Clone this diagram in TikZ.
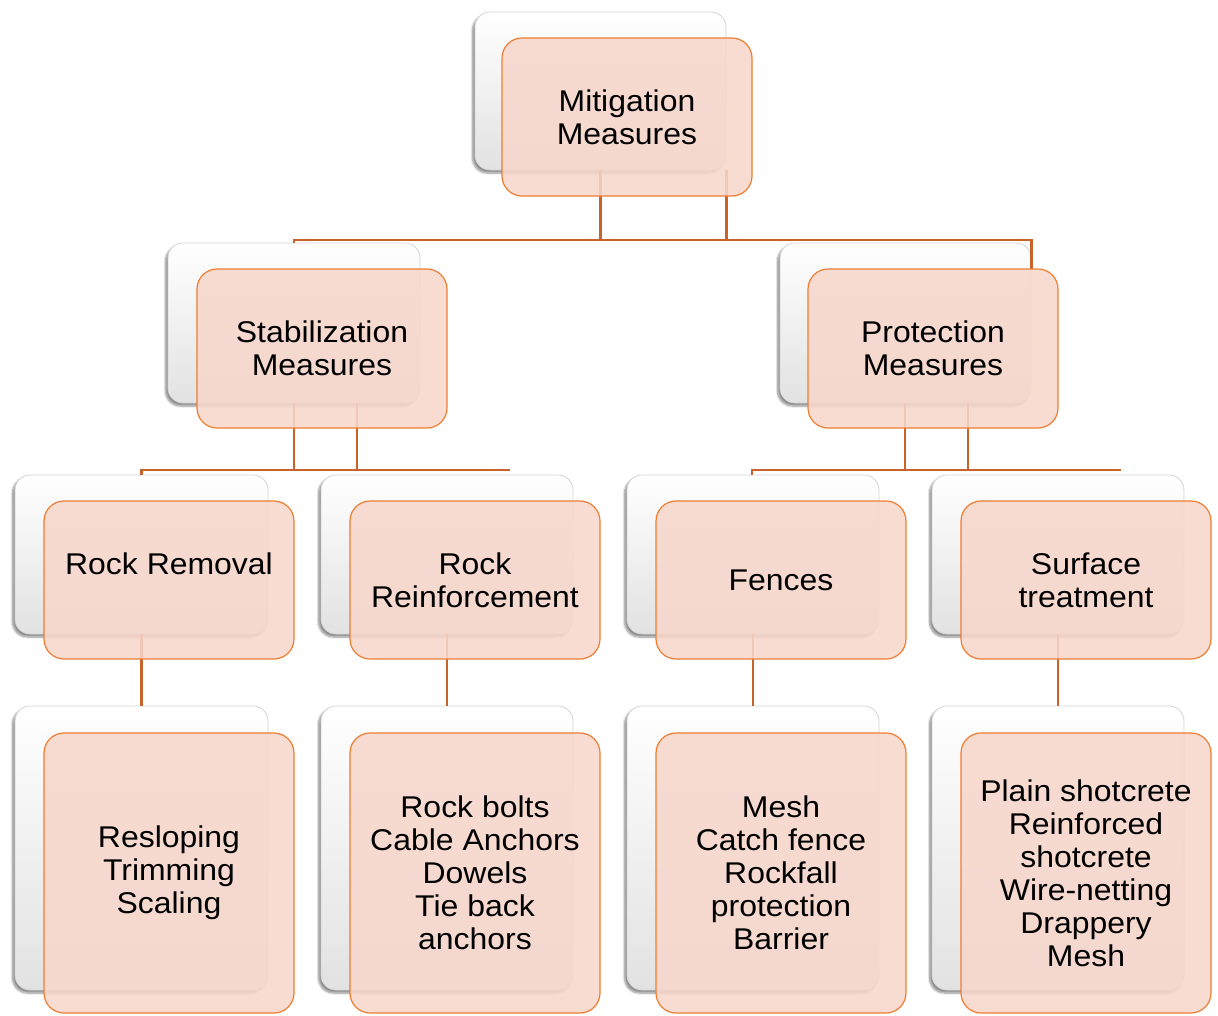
\documentclass[tikz,border=0pt]{standalone}
\usepackage{fontspec}
\setmainfont{Liberation Sans}[FakeStretch=1.065]
\usetikzlibrary{shadows.blur,calc}
\definecolor{frontfill}{HTML}{F7D6CB}
\definecolor{frontline}{HTML}{ED7D31}
\definecolor{conn}{HTML}{C8642A}
\definecolor{backline}{HTML}{D4D4D4}
\definecolor{backlow}{HTML}{E2E2E2}
\tikzset{
  backbox/.style={draw=backline, line width=0.8pt, rounded corners=15pt,
    top color=white, middle color=white, bottom color=backlow,
    blur shadow={shadow xshift=-2.5pt, shadow yshift=-3pt, shadow blur steps=6, shadow opacity=45},
    inner sep=0pt, anchor=center},
  frontbox/.style={draw=frontline, line width=1.2pt, rounded corners=20pt,
    fill=frontfill, fill opacity=0.88, text opacity=1, inner sep=0pt, anchor=center,
    align=center, font=\fontsize{30}{33}\selectfont},
  connline/.style={draw=conn, line width=2.4pt}
}
\begin{document}
\begin{tikzpicture}[x=1pt,y=-1pt]
\useasboundingbox (0,0) rectangle (1218,1015);
% back boxes
\node[backbox, minimum width=251pt, minimum height=158pt] (mb) at (600.5,91) {};
\node[backbox, minimum width=252pt, minimum height=160pt] (sb) at (294,323) {};
\node[backbox, minimum width=251pt, minimum height=160pt] (pb) at (905.5,323) {};
\node[backbox, minimum width=253pt, minimum height=159pt] (rrb) at (141.5,554.5) {};
\node[backbox, minimum width=252pt, minimum height=159pt] (rfb) at (447,554.5) {};
\node[backbox, minimum width=252pt, minimum height=159pt] (feb) at (753,554.5) {};
\node[backbox, minimum width=252pt, minimum height=159pt] (stb) at (1058,554.5) {};
\node[backbox, minimum width=253pt, minimum height=284pt] (rr4b) at (141.5,848) {};
\node[backbox, minimum width=252pt, minimum height=284pt] (rf4b) at (447,848) {};
\node[backbox, minimum width=252pt, minimum height=284pt] (fe4b) at (753,848) {};
\node[backbox, minimum width=252pt, minimum height=284pt] (st4b) at (1058,848) {};
% connectors
\draw[connline] (mb.south) -- (mb.south |- 0,240) -| ($(pb.north east)+(0,27)$);
\draw[connline] (mb.south east) -- (mb.south east |- 0,240) -| (sb.north);
\draw[connline] (294,403) -- (294,470) -- (510,470);
\draw[connline] (357,403) -- (357,470) -| (rrb.north);
\draw[connline] (905,403) -- (905,470) -- (1121,470);
\draw[connline] (968,403) -- (968,470) -| (feb.north -| 752,0);
\draw[connline] (rrb.south) -- (rr4b.north);
\draw[connline] (rfb.south) -- (rf4b.north);
\draw[connline] (feb.south) -- (fe4b.north);
\draw[connline] (stb.south) -- (st4b.north);
% front boxes
\node[frontbox, minimum width=250pt, minimum height=158pt] (mf) at (627,117) {Mitigation\\Measures};
\node[frontbox, minimum width=250pt, minimum height=159pt] (sf) at (322,348.5) {Stabilization\\Measures};
\node[frontbox, minimum width=250pt, minimum height=159pt] (pf) at (933,348.5) {Protection\\Measures};
\node[frontbox, minimum width=250pt, minimum height=158pt] (rrf) at (169,580) {Rock Removal\\\phantom{X}};
\node[frontbox, minimum width=250pt, minimum height=158pt] (rff) at (475,580) {Rock\\Reinforcement};
\node[frontbox, minimum width=250pt, minimum height=158pt] (fef) at (781,580) {Fences};
\node[frontbox, minimum width=250pt, minimum height=158pt] (stf) at (1086,580) {Surface\\treatment};
\node[frontbox, minimum width=250pt, minimum height=280pt] (rr4f) at (169,873) {Resloping\\Trimming\\Scaling};
\node[frontbox, minimum width=250pt, minimum height=280pt] (rf4f) at (475,873) {Rock bolts\\Cable Anchors\\Dowels\\Tie back\\anchors};
\node[frontbox, minimum width=250pt, minimum height=280pt] (fe4f) at (781,873) {Mesh\\Catch fence\\Rockfall\\protection\\Barrier};
\node[frontbox, minimum width=250pt, minimum height=280pt] (st4f) at (1086,873) {Plain shotcrete\\Reinforced\\shotcrete\\Wire-netting\\Drappery\\Mesh};
\end{tikzpicture}
\end{document}
